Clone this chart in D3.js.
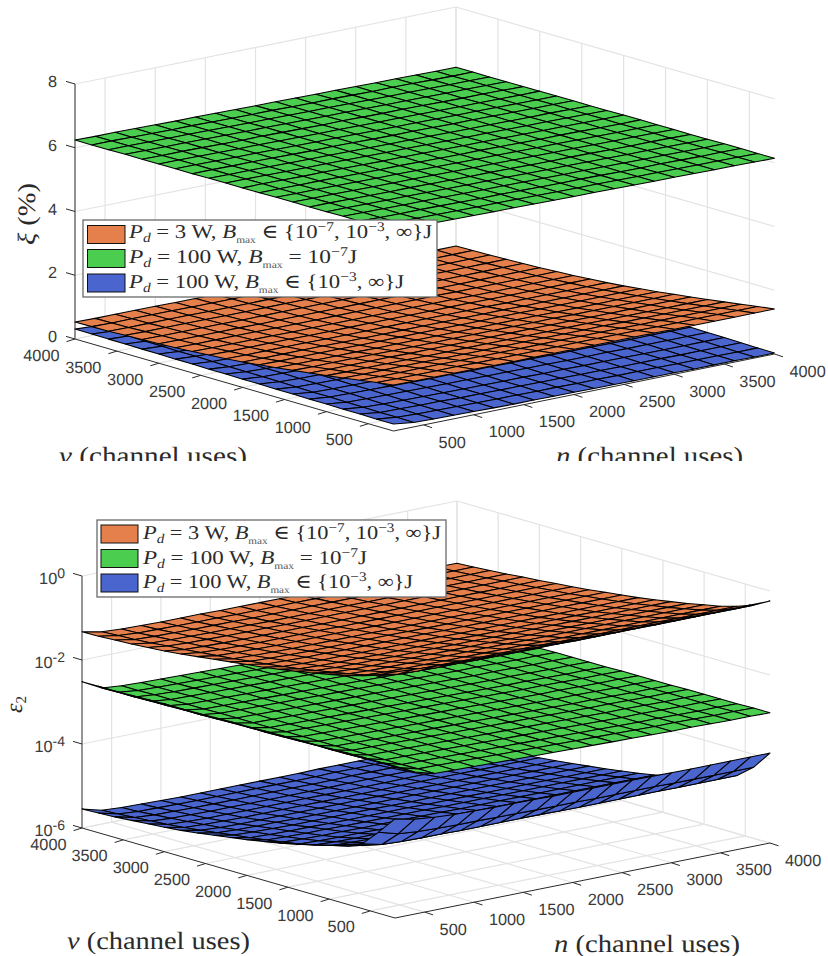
<!DOCTYPE html>
<html><head><meta charset="utf-8">
<script src="https://cdn.jsdelivr.net/npm/d3@7"></script>
<style>html,body{margin:0;padding:0;background:#fff}svg{display:block;text-rendering:geometricPrecision}</style>
</head><body><div id="c"></div>
<script>
const nGrid=[200,400,600,800,1000,1200,1400,1600,1800,2000,2200,2400,2600,2800,3000,3200,3400,3600,3800,4000];
const vGrid=[200,400,600,800,1000,1200,1400,1600,1800,2000,2200,2400,2600,2800,3000,3200,3400,3600,3800,4000];
const hTicks=[500,1000,1500,2000,2500,3000,3500,4000];
const xiTicks=[0,2,4,6,8];
const epsExponents=[-6,-4,-2,0];
const surfaceColors=["#E5804D","#4BCE4F","#4A65CE"];
const seriesLabels=[
 [["P","i"],["d","sub"],[" = 3 W, "],["B","i"],["max","max"],[" ∈ {10"],["−7","sup"],[", 10"],["−3","sup"],[", ∞}J"]],
 [["P","i"],["d","sub"],[" = 100 W, "],["B","i"],["max","max"],[" = 10"],["−7","sup"],["J"]],
 [["P","i"],["d","sub"],[" = 100 W, "],["B","i"],["max","max"],[" ∈ {10"],["−3","sup"],[", ∞}J"]]
];
// xi (%) rows: v = 200..4000, columns: n = 200..4000
const xiGreen=[
[6.28,6.27,6.27,6.26,6.25,6.24,6.24,6.23,6.22,6.21,6.21,6.20,6.19,6.18,6.18,6.17,6.16,6.16,6.15,6.14],
[6.28,6.27,6.27,6.26,6.25,6.24,6.24,6.23,6.22,6.21,6.20,6.20,6.19,6.18,6.18,6.17,6.16,6.16,6.15,6.14],
[6.28,6.27,6.26,6.26,6.25,6.24,6.23,6.23,6.22,6.21,6.20,6.20,6.19,6.18,6.17,6.17,6.16,6.15,6.15,6.14],
[6.28,6.27,6.26,6.25,6.25,6.24,6.23,6.22,6.22,6.21,6.20,6.19,6.19,6.18,6.17,6.16,6.16,6.15,6.14,6.14],
[6.27,6.27,6.26,6.25,6.25,6.24,6.23,6.22,6.22,6.21,6.20,6.19,6.19,6.18,6.17,6.16,6.16,6.15,6.14,6.13],
[6.27,6.27,6.26,6.25,6.24,6.24,6.23,6.22,6.21,6.21,6.20,6.19,6.18,6.18,6.17,6.16,6.15,6.15,6.14,6.13],
[6.27,6.26,6.26,6.25,6.24,6.23,6.23,6.22,6.21,6.20,6.20,6.19,6.18,6.17,6.17,6.16,6.15,6.15,6.14,6.13],
[6.27,6.26,6.26,6.25,6.24,6.23,6.23,6.22,6.21,6.20,6.19,6.19,6.18,6.17,6.17,6.16,6.15,6.14,6.14,6.13],
[6.26,6.26,6.25,6.25,6.24,6.23,6.22,6.22,6.21,6.20,6.19,6.19,6.18,6.17,6.16,6.16,6.15,6.14,6.13,6.13],
[6.26,6.26,6.25,6.24,6.24,6.23,6.22,6.21,6.21,6.20,6.19,6.18,6.18,6.17,6.16,6.15,6.15,6.14,6.13,6.13],
[6.26,6.26,6.25,6.24,6.23,6.23,6.22,6.21,6.20,6.20,6.19,6.18,6.17,6.17,6.16,6.15,6.15,6.14,6.13,6.12],
[6.26,6.25,6.25,6.24,6.23,6.22,6.22,6.21,6.20,6.19,6.19,6.18,6.17,6.16,6.16,6.15,6.14,6.14,6.13,6.12],
[6.25,6.25,6.24,6.24,6.23,6.22,6.21,6.21,6.20,6.19,6.18,6.18,6.17,6.16,6.16,6.15,6.14,6.13,6.13,6.12],
[6.25,6.25,6.24,6.23,6.23,6.22,6.21,6.20,6.20,6.19,6.18,6.17,6.17,6.16,6.15,6.15,6.14,6.13,6.12,6.12],
[6.25,6.25,6.24,6.23,6.22,6.22,6.21,6.20,6.19,6.19,6.18,6.17,6.17,6.16,6.15,6.14,6.14,6.13,6.12,6.12],
[6.25,6.24,6.24,6.23,6.22,6.21,6.21,6.20,6.19,6.18,6.18,6.17,6.16,6.16,6.15,6.14,6.13,6.13,6.12,6.11],
[6.25,6.24,6.23,6.23,6.22,6.21,6.20,6.20,6.19,6.18,6.17,6.17,6.16,6.15,6.15,6.14,6.13,6.13,6.12,6.11],
[6.24,6.24,6.23,6.22,6.22,6.21,6.20,6.19,6.19,6.18,6.17,6.17,6.16,6.15,6.14,6.14,6.13,6.12,6.12,6.11],
[6.24,6.24,6.23,6.22,6.21,6.21,6.20,6.19,6.18,6.18,6.17,6.16,6.16,6.15,6.14,6.14,6.13,6.12,6.11,6.11],
[6.24,6.23,6.23,6.22,6.21,6.20,6.20,6.19,6.18,6.17,6.17,6.16,6.15,6.15,6.14,6.13,6.13,6.12,6.11,6.11]];
const xiOrange=[
[1.44,1.43,1.43,1.43,1.43,1.42,1.42,1.42,1.42,1.42,1.42,1.42,1.42,1.42,1.41,1.41,1.41,1.41,1.41,1.41],
[1.37,1.36,1.36,1.36,1.36,1.35,1.35,1.35,1.35,1.35,1.35,1.35,1.35,1.35,1.34,1.34,1.34,1.34,1.34,1.34],
[1.29,1.28,1.28,1.28,1.28,1.27,1.27,1.27,1.27,1.27,1.27,1.27,1.27,1.27,1.26,1.26,1.26,1.26,1.26,1.26],
[1.21,1.20,1.20,1.20,1.20,1.19,1.19,1.19,1.19,1.19,1.19,1.19,1.19,1.19,1.18,1.18,1.18,1.18,1.18,1.18],
[1.13,1.12,1.12,1.12,1.12,1.11,1.11,1.11,1.11,1.11,1.11,1.11,1.11,1.11,1.10,1.10,1.10,1.10,1.10,1.10],
[1.06,1.05,1.05,1.05,1.05,1.04,1.04,1.04,1.04,1.04,1.04,1.04,1.04,1.04,1.03,1.03,1.03,1.03,1.03,1.03],
[.99,.98,.98,.98,.98,.97,.97,.97,.97,.97,.97,.97,.97,.97,.96,.96,.96,.96,.96,.96],
[.92,.91,.91,.91,.91,.90,.90,.90,.90,.90,.90,.90,.90,.90,.89,.89,.89,.89,.89,.89],
[.86,.85,.85,.85,.85,.84,.84,.84,.84,.84,.84,.84,.84,.84,.83,.83,.83,.83,.83,.83],
[.80,.79,.79,.79,.79,.78,.78,.78,.78,.78,.78,.78,.78,.78,.77,.77,.77,.77,.77,.77],
[.75,.74,.74,.74,.74,.73,.73,.73,.73,.73,.73,.73,.73,.73,.72,.72,.72,.72,.72,.72],
[.71,.70,.70,.70,.70,.69,.69,.69,.69,.69,.69,.69,.69,.69,.68,.68,.68,.68,.68,.68],
[.67,.66,.66,.66,.66,.65,.65,.65,.65,.65,.65,.65,.65,.65,.64,.64,.64,.64,.64,.64],
[.64,.63,.63,.63,.63,.62,.62,.62,.62,.62,.62,.62,.62,.62,.61,.61,.61,.61,.61,.61],
[.61,.60,.60,.60,.60,.59,.59,.59,.59,.59,.59,.59,.59,.59,.58,.58,.58,.58,.58,.58],
[.59,.58,.58,.58,.58,.57,.57,.57,.57,.57,.57,.57,.57,.57,.56,.56,.56,.56,.56,.56],
[.57,.56,.56,.56,.56,.55,.55,.55,.55,.55,.55,.55,.55,.55,.54,.54,.54,.54,.54,.54],
[.55,.54,.54,.54,.54,.53,.53,.53,.53,.53,.53,.53,.53,.53,.52,.52,.52,.52,.52,.52],
[.54,.53,.53,.53,.53,.52,.52,.52,.52,.52,.52,.52,.52,.52,.51,.51,.51,.51,.51,.51],
[.53,.52,.52,.52,.52,.51,.51,.51,.51,.51,.51,.51,.51,.51,.50,.50,.50,.50,.50,.50]];
const xiBlue=[
[.22,.14,.12,.11,.10,.09,.08,.08,.07,.07,.06,.06,.05,.05,.05,.04,.04,.04,.03,.03],
[.22,.15,.13,.12,.11,.10,.09,.09,.08,.08,.07,.07,.06,.06,.06,.05,.05,.05,.04,.04],
[.23,.15,.14,.12,.12,.10,.10,.09,.09,.08,.08,.07,.07,.06,.06,.06,.05,.05,.05,.05],
[.23,.16,.14,.13,.12,.11,.10,.10,.09,.09,.08,.08,.07,.07,.07,.06,.06,.06,.06,.06],
[.24,.17,.15,.14,.13,.12,.11,.11,.10,.10,.09,.09,.08,.08,.08,.07,.07,.07,.07,.07],
[.24,.18,.16,.15,.14,.13,.12,.12,.11,.11,.10,.10,.09,.09,.09,.08,.08,.08,.08,.08],
[.25,.18,.16,.15,.14,.13,.12,.12,.11,.11,.10,.10,.10,.09,.09,.09,.09,.09,.09,.09],
[.25,.19,.17,.16,.15,.14,.13,.13,.12,.12,.11,.11,.11,.10,.10,.10,.10,.10,.10,.10],
[.26,.20,.18,.17,.16,.15,.14,.14,.13,.13,.12,.12,.12,.11,.11,.11,.11,.11,.11,.11],
[.26,.21,.19,.18,.17,.16,.15,.15,.14,.14,.13,.13,.13,.12,.12,.12,.12,.12,.12,.12],
[.27,.21,.19,.18,.17,.16,.16,.15,.15,.15,.14,.14,.14,.13,.13,.13,.13,.13,.13,.13],
[.27,.22,.20,.19,.18,.18,.17,.17,.16,.16,.15,.15,.15,.14,.14,.14,.14,.14,.14,.14],
[.28,.23,.21,.20,.19,.19,.18,.18,.17,.17,.16,.16,.16,.15,.15,.15,.15,.15,.15,.15],
[.28,.24,.22,.21,.20,.20,.19,.19,.18,.18,.17,.17,.17,.16,.16,.16,.16,.16,.16,.16],
[.29,.24,.23,.22,.21,.21,.20,.20,.19,.19,.18,.18,.18,.17,.17,.17,.17,.17,.17,.17],
[.29,.25,.24,.23,.22,.22,.21,.21,.20,.20,.19,.19,.19,.18,.18,.18,.18,.18,.17,.17],
[.30,.26,.25,.24,.23,.23,.22,.22,.21,.21,.20,.20,.20,.19,.19,.19,.19,.18,.18,.18],
[.30,.27,.26,.25,.24,.24,.23,.23,.22,.22,.21,.21,.21,.20,.20,.20,.19,.19,.19,.19],
[.31,.27,.26,.25,.24,.24,.23,.23,.23,.22,.22,.21,.21,.21,.20,.20,.20,.19,.19,.19],
[.31,.28,.27,.26,.25,.25,.24,.24,.23,.23,.22,.22,.22,.21,.21,.21,.20,.20,.20,.20]];
// log10(epsilon_2), same row/column order
const epsOrangeLog=[
[-.14,-.17,-.20,-.21,-.22,-.22,-.23,-.23,-.23,-.24,-.24,-.24,-.24,-.24,-.24,-.24,-.24,-.24,-.24,-.24],
[-.32,-.40,-.42,-.43,-.43,-.44,-.44,-.44,-.44,-.44,-.45,-.45,-.45,-.45,-.45,-.45,-.45,-.45,-.45,-.45],
[-.46,-.54,-.56,-.57,-.57,-.58,-.58,-.58,-.58,-.58,-.59,-.59,-.59,-.59,-.59,-.59,-.59,-.59,-.59,-.59],
[-.57,-.65,-.67,-.68,-.68,-.69,-.69,-.69,-.69,-.69,-.70,-.70,-.70,-.70,-.70,-.70,-.70,-.70,-.70,-.70],
[-.65,-.73,-.75,-.76,-.76,-.77,-.77,-.77,-.77,-.77,-.78,-.78,-.78,-.78,-.78,-.78,-.78,-.78,-.78,-.78],
[-.73,-.81,-.83,-.84,-.84,-.85,-.85,-.85,-.85,-.85,-.86,-.86,-.86,-.86,-.86,-.86,-.86,-.86,-.86,-.86],
[-.80,-.88,-.90,-.91,-.91,-.92,-.92,-.92,-.92,-.92,-.93,-.93,-.93,-.93,-.93,-.93,-.93,-.93,-.93,-.93],
[-.87,-.95,-.97,-.98,-.98,-.99,-.99,-.99,-.99,-.99,-1.00,-1.00,-1.00,-1.00,-1.00,-1.00,-1.00,-1.00,-1.00,-1.00],
[-.93,-1.01,-1.03,-1.04,-1.04,-1.05,-1.05,-1.05,-1.05,-1.05,-1.06,-1.06,-1.06,-1.06,-1.06,-1.06,-1.06,-1.06,-1.06,-1.06],
[-.98,-1.06,-1.08,-1.09,-1.09,-1.10,-1.10,-1.10,-1.10,-1.10,-1.11,-1.11,-1.11,-1.11,-1.11,-1.11,-1.11,-1.11,-1.11,-1.11],
[-1.03,-1.11,-1.13,-1.14,-1.15,-1.15,-1.15,-1.15,-1.15,-1.15,-1.16,-1.16,-1.16,-1.16,-1.16,-1.16,-1.16,-1.16,-1.16,-1.16],
[-1.08,-1.16,-1.18,-1.19,-1.20,-1.20,-1.20,-1.20,-1.20,-1.21,-1.21,-1.21,-1.21,-1.21,-1.21,-1.21,-1.21,-1.21,-1.21,-1.21],
[-1.13,-1.20,-1.22,-1.23,-1.24,-1.24,-1.24,-1.24,-1.24,-1.25,-1.25,-1.25,-1.25,-1.25,-1.25,-1.25,-1.25,-1.25,-1.25,-1.25],
[-1.18,-1.24,-1.26,-1.27,-1.28,-1.28,-1.28,-1.28,-1.29,-1.29,-1.29,-1.29,-1.29,-1.29,-1.29,-1.29,-1.29,-1.29,-1.29,-1.29],
[-1.22,-1.28,-1.30,-1.31,-1.32,-1.32,-1.32,-1.32,-1.33,-1.33,-1.33,-1.33,-1.33,-1.33,-1.33,-1.33,-1.33,-1.33,-1.33,-1.33],
[-1.25,-1.31,-1.33,-1.34,-1.35,-1.35,-1.35,-1.36,-1.36,-1.36,-1.36,-1.36,-1.36,-1.36,-1.36,-1.36,-1.36,-1.36,-1.36,-1.36],
[-1.28,-1.35,-1.37,-1.38,-1.39,-1.39,-1.39,-1.40,-1.40,-1.40,-1.40,-1.40,-1.40,-1.40,-1.40,-1.40,-1.40,-1.40,-1.40,-1.40],
[-1.30,-1.38,-1.40,-1.41,-1.42,-1.42,-1.42,-1.43,-1.43,-1.43,-1.43,-1.43,-1.43,-1.43,-1.43,-1.43,-1.43,-1.43,-1.43,-1.43],
[-1.32,-1.40,-1.43,-1.44,-1.45,-1.45,-1.45,-1.46,-1.46,-1.46,-1.46,-1.46,-1.46,-1.46,-1.46,-1.46,-1.46,-1.46,-1.46,-1.46],
[-1.33,-1.42,-1.45,-1.46,-1.47,-1.47,-1.47,-1.48,-1.48,-1.48,-1.48,-1.48,-1.48,-1.48,-1.48,-1.48,-1.48,-1.48,-1.48,-1.48]];
const epsGreenLog=[
[-2.38,-2.62,-2.75,-2.76,-2.77,-2.78,-2.79,-2.80,-2.81,-2.82,-2.83,-2.84,-2.85,-2.86,-2.87,-2.87,-2.88,-2.89,-2.89,-2.90],
[-2.39,-2.63,-2.75,-2.76,-2.77,-2.78,-2.79,-2.80,-2.81,-2.82,-2.83,-2.84,-2.85,-2.86,-2.87,-2.87,-2.88,-2.89,-2.89,-2.90],
[-2.39,-2.63,-2.76,-2.77,-2.78,-2.79,-2.80,-2.81,-2.82,-2.83,-2.84,-2.85,-2.86,-2.87,-2.88,-2.88,-2.89,-2.90,-2.90,-2.91],
[-2.40,-2.64,-2.76,-2.77,-2.78,-2.79,-2.80,-2.81,-2.82,-2.83,-2.84,-2.85,-2.86,-2.87,-2.88,-2.88,-2.89,-2.90,-2.90,-2.91],
[-2.41,-2.65,-2.76,-2.77,-2.78,-2.79,-2.80,-2.81,-2.82,-2.83,-2.84,-2.85,-2.86,-2.87,-2.88,-2.88,-2.89,-2.90,-2.90,-2.91],
[-2.42,-2.66,-2.76,-2.77,-2.78,-2.79,-2.80,-2.81,-2.82,-2.83,-2.84,-2.85,-2.86,-2.87,-2.88,-2.88,-2.89,-2.90,-2.90,-2.91],
[-2.42,-2.66,-2.77,-2.78,-2.79,-2.80,-2.81,-2.82,-2.83,-2.84,-2.85,-2.86,-2.87,-2.88,-2.89,-2.89,-2.90,-2.91,-2.91,-2.92],
[-2.43,-2.67,-2.77,-2.78,-2.79,-2.80,-2.81,-2.82,-2.83,-2.84,-2.85,-2.86,-2.87,-2.88,-2.89,-2.89,-2.90,-2.91,-2.91,-2.92],
[-2.44,-2.68,-2.77,-2.78,-2.79,-2.80,-2.81,-2.82,-2.83,-2.84,-2.85,-2.86,-2.87,-2.88,-2.89,-2.89,-2.90,-2.91,-2.91,-2.92],
[-2.45,-2.69,-2.77,-2.78,-2.79,-2.80,-2.81,-2.82,-2.83,-2.84,-2.85,-2.86,-2.87,-2.88,-2.89,-2.89,-2.90,-2.91,-2.91,-2.92],
[-2.45,-2.69,-2.78,-2.79,-2.80,-2.81,-2.82,-2.83,-2.84,-2.85,-2.86,-2.87,-2.88,-2.89,-2.90,-2.90,-2.91,-2.92,-2.92,-2.93],
[-2.46,-2.70,-2.78,-2.79,-2.80,-2.81,-2.82,-2.83,-2.84,-2.85,-2.86,-2.87,-2.88,-2.89,-2.90,-2.90,-2.91,-2.92,-2.92,-2.93],
[-2.47,-2.71,-2.78,-2.79,-2.80,-2.81,-2.82,-2.83,-2.84,-2.85,-2.86,-2.87,-2.88,-2.89,-2.90,-2.90,-2.91,-2.92,-2.92,-2.93],
[-2.48,-2.72,-2.78,-2.79,-2.80,-2.81,-2.82,-2.83,-2.84,-2.85,-2.86,-2.87,-2.88,-2.89,-2.90,-2.90,-2.91,-2.92,-2.92,-2.93],
[-2.48,-2.72,-2.79,-2.80,-2.81,-2.82,-2.83,-2.84,-2.85,-2.86,-2.87,-2.88,-2.89,-2.90,-2.91,-2.91,-2.92,-2.93,-2.93,-2.94],
[-2.49,-2.73,-2.79,-2.80,-2.81,-2.82,-2.83,-2.84,-2.85,-2.86,-2.87,-2.88,-2.89,-2.90,-2.91,-2.91,-2.92,-2.93,-2.93,-2.94],
[-2.50,-2.74,-2.79,-2.80,-2.81,-2.82,-2.83,-2.84,-2.85,-2.86,-2.87,-2.88,-2.89,-2.90,-2.91,-2.91,-2.92,-2.93,-2.93,-2.94],
[-2.51,-2.75,-2.79,-2.81,-2.82,-2.83,-2.84,-2.85,-2.86,-2.87,-2.88,-2.89,-2.89,-2.90,-2.91,-2.91,-2.92,-2.93,-2.93,-2.94],
[-2.51,-2.75,-2.80,-2.82,-2.83,-2.84,-2.85,-2.86,-2.87,-2.88,-2.89,-2.90,-2.90,-2.91,-2.92,-2.92,-2.93,-2.93,-2.94,-2.95],
[-2.52,-2.76,-2.80,-2.82,-2.83,-2.84,-2.85,-2.86,-2.87,-2.88,-2.89,-2.90,-2.90,-2.91,-2.92,-2.92,-2.93,-2.93,-2.94,-2.95]];
const epsBlueLog=[
[-3.64,-3.74,-3.79,-3.82,-3.83,-3.84,-3.84,-3.84,-3.85,-3.85,-3.85,-3.85,-3.85,-3.85,-3.86,-3.86,-3.86,-3.86,-3.86,-3.86],
[-4.07,-4.20,-4.24,-4.26,-4.27,-4.27,-4.28,-4.28,-4.29,-4.29,-4.29,-4.30,-4.30,-4.30,-4.30,-4.31,-4.31,-4.31,-4.31,-4.31],
[-4.46,-4.57,-4.59,-4.60,-4.60,-4.61,-4.61,-4.61,-4.61,-4.61,-4.62,-4.62,-4.62,-4.62,-4.62,-4.62,-4.62,-4.62,-4.62,-4.62],
[-4.59,-4.70,-4.72,-4.73,-4.73,-4.74,-4.74,-4.74,-4.74,-4.74,-4.75,-4.75,-4.75,-4.75,-4.75,-4.75,-4.75,-4.75,-4.75,-4.75],
[-4.72,-4.83,-4.85,-4.86,-4.86,-4.87,-4.87,-4.87,-4.87,-4.87,-4.88,-4.88,-4.88,-4.88,-4.88,-4.88,-4.88,-4.88,-4.88,-4.88],
[-4.82,-4.93,-4.95,-4.96,-4.96,-4.97,-4.97,-4.97,-4.97,-4.97,-4.98,-4.98,-4.98,-4.98,-4.98,-4.98,-4.98,-4.98,-4.98,-4.98],
[-4.92,-5.03,-5.05,-5.06,-5.06,-5.07,-5.07,-5.07,-5.07,-5.07,-5.08,-5.08,-5.08,-5.08,-5.08,-5.08,-5.08,-5.08,-5.08,-5.08],
[-5.01,-5.12,-5.14,-5.15,-5.15,-5.16,-5.16,-5.16,-5.16,-5.16,-5.17,-5.17,-5.17,-5.17,-5.17,-5.17,-5.17,-5.17,-5.17,-5.17],
[-5.08,-5.19,-5.21,-5.22,-5.22,-5.23,-5.23,-5.23,-5.23,-5.23,-5.24,-5.24,-5.24,-5.24,-5.24,-5.24,-5.24,-5.24,-5.24,-5.24],
[-5.15,-5.25,-5.27,-5.28,-5.28,-5.29,-5.29,-5.29,-5.29,-5.29,-5.30,-5.30,-5.30,-5.30,-5.30,-5.30,-5.30,-5.30,-5.30,-5.30],
[-5.21,-5.31,-5.33,-5.34,-5.34,-5.35,-5.35,-5.35,-5.35,-5.35,-5.36,-5.36,-5.36,-5.36,-5.36,-5.36,-5.36,-5.36,-5.36,-5.36],
[-5.27,-5.36,-5.38,-5.39,-5.40,-5.40,-5.40,-5.40,-5.40,-5.41,-5.41,-5.41,-5.41,-5.41,-5.41,-5.41,-5.41,-5.41,-5.41,-5.41],
[-5.33,-5.42,-5.44,-5.45,-5.45,-5.46,-5.46,-5.46,-5.46,-5.46,-5.46,-5.46,-5.46,-5.46,-5.46,-5.46,-5.46,-5.46,-5.46,-5.46],
[-5.38,-5.47,-5.50,-5.51,-5.51,-5.51,-5.51,-5.51,-5.51,-5.51,-5.51,-5.51,-5.51,-5.51,-5.51,-5.51,-5.51,-5.51,-5.51,-5.51],
[-5.42,-5.52,-5.54,-5.55,-5.56,-5.56,-5.56,-5.56,-5.56,-5.56,-5.56,-5.56,-5.55,-5.55,-5.55,-5.55,-5.55,-5.55,-5.55,-5.55],
[-5.45,-5.56,-5.58,-5.60,-5.60,-5.60,-5.60,-5.60,-5.60,-5.60,-5.60,-5.60,-5.60,-5.59,-5.59,-5.59,-5.59,-5.59,-5.59,-5.59],
[-5.48,-5.59,-5.62,-5.63,-5.64,-5.64,-5.64,-5.64,-5.64,-5.64,-5.64,-5.63,-5.63,-5.63,-5.63,-5.62,-5.62,-5.62,-5.62,-5.62],
[-5.51,-5.62,-5.65,-5.66,-5.67,-5.67,-5.67,-5.67,-5.67,-5.67,-5.67,-5.67,-5.66,-5.66,-5.66,-5.66,-5.65,-5.65,-5.65,-5.65],
[-5.53,-5.65,-5.68,-5.69,-5.70,-5.70,-5.70,-5.70,-5.70,-5.70,-5.70,-5.70,-5.69,-5.69,-5.69,-5.69,-5.69,-5.68,-5.68,-5.68],
[-5.55,-5.67,-5.70,-5.71,-5.72,-5.73,-5.73,-5.73,-5.73,-5.73,-5.73,-5.73,-5.72,-5.72,-5.72,-5.72,-5.71,-5.71,-5.71,-5.70]];

const svg=d3.select("#c").append("svg").attr("width",828).attr("height",956);
const SANS="'Liberation Sans',Arial,sans-serif", SERIF="'Liberation Serif','DejaVu Serif',serif";
const GRID="#e3e3e3", AX="#2b2b2b", TXT="#3a3a3a", MATH="#2a2a2a";

function panel(g,cfg){
  const dom=[200,4000];
  const nx=d3.scaleLinear().domain(dom).range([0,cfg.nVec[0]]), ny=d3.scaleLinear().domain(dom).range([0,cfg.nVec[1]]);
  const vx=d3.scaleLinear().domain(dom).range([0,cfg.vVec[0]]), vy=d3.scaleLinear().domain(dom).range([0,cfg.vVec[1]]);
  const zs=cfg.zScale;
  const zBase=zs(cfg.zDomain[0]);
  const P=(n,v,z)=>[cfg.o[0]+nx(n)+vx(v), cfg.o[1]+ny(n)+vy(v)+(zs(z)-zBase)];
  const line=d3.line();
  const seg=(a,b,st,w)=>g.append("path").attr("d",line([a,b])).attr("fill","none").attr("stroke",st).attr("stroke-width",w);
  const [z0,z1]=cfg.zDomain;
  hTicks.forEach(t=>{
    seg(P(t,4000,z0),P(t,4000,z1),GRID,1.2);
    seg(P(4000,t,z0),P(4000,t,z1),GRID,1.2);
    seg(P(t,200,z0),P(t,4000,z0),GRID,1.2);
    seg(P(200,t,z0),P(4000,t,z0),GRID,1.2);
  });
  cfg.zTicks.forEach(z=>{
    seg(P(200,4000,z),P(4000,4000,z),GRID,1.2);
    seg(P(4000,200,z),P(4000,4000,z),GRID,1.2);
  });
  seg(P(200,4000,z0),P(200,200,z0),AX,1);
  seg(P(200,200,z0),P(4000,200,z0),AX,1);
  seg(P(200,4000,z0),P(200,4000,z1),cfg.zAxisColor,cfg.zAxisW);
  const tv=[-8.5,2.6], tn=[8.5,2.8], tz=[-9,-2.6];
  hTicks.forEach(t=>{
    const a=P(200,t,z0); seg(a,[a[0]+tv[0],a[1]+tv[1]],AX,1);
    g.append("text").attr("x",a[0]-15.5).attr("y",a[1]+16+5.6).attr("text-anchor","end").attr("font-family",SANS).attr("font-size",16.3).attr("fill",TXT).text(t);
    const b=P(t,200,z0); seg(b,[b[0]+tn[0],b[1]+tn[1]],AX,1);
    g.append("text").attr("x",b[0]+15).attr("y",b[1]+17+5.6).attr("font-family",SANS).attr("font-size",16.3).attr("fill",TXT).text(t);
  });
  cfg.zTicks.forEach(z=>{
    const a=P(200,4000,z); seg(a,[a[0]+tz[0],a[1]+tz[1]],AX,1);
    cfg.zLabel(g,a,z);
  });
  cfg.surfaces.forEach(s=>{
    const sg=g.append("g");
    for(let i=vGrid.length-2;i>=0;i--) for(let j=nGrid.length-2;j>=0;j--){
      const q=[[j,i],[j+1,i],[j+1,i+1],[j,i+1]].map(([c,r])=>P(nGrid[c],vGrid[r],cfg.zVal(s.m[r][c])));
      sg.append("path").attr("d",line(q)+"Z").attr("fill",s.c).attr("stroke","#000").attr("stroke-width",1.05).attr("stroke-linejoin","round");
    }
  });
}
function mathText(g,segs,x,y,len,fs){
  const t=g.append("text").attr("x",x).attr("y",y).attr("font-family",SERIF).attr("font-size",fs).attr("fill",MATH).style("white-space","pre");
  let off=0;
  segs.forEach(([s,k])=>{
    const target=k==="sub"?4:k==="max"?5:k==="sup"?-7:0;
    const ts=t.append("tspan").attr("dy",target-off).text(s); off=target;
    if(k==="i"||k==="sub") ts.attr("font-style","italic");
    if(k==="sub"||k==="sup") ts.attr("font-size",fs*.68);
    if(k==="max") ts.attr("font-size",fs*.5).attr("fill","#555");
  });
  t.attr("textLength",len).attr("lengthAdjust","spacingAndGlyphs");
}
function legend(g,box,sw,tx,rows){
  g.append("rect").attr("x",box[0]).attr("y",box[1]).attr("width",box[2]).attr("height",box[3]).attr("fill","#fff").attr("stroke","#6a6a6a").attr("stroke-width",1.3);
  rows.forEach((r,i)=>{
    g.append("rect").attr("x",sw[0]).attr("y",r.y).attr("width",sw[1]).attr("height",r.h).attr("fill",surfaceColors[i]).attr("stroke","#111").attr("stroke-width",1);
    mathText(g,seriesLabels[i],tx,r.base,r.len,19.5);
  });
}
function axisTitle(g,letter,rest,x,y,len){
  const t=g.append("text").attr("x",x).attr("y",y).attr("font-family",SERIF).attr("font-size",25).attr("fill",MATH).attr("textLength",len).attr("lengthAdjust","spacingAndGlyphs");
  t.append("tspan").attr("font-style","italic").text(letter);
  t.append("tspan").text(rest);
}

svg.append("clipPath").attr("id","topClip").append("rect").attr("width",828).attr("height",461);
const top_=svg.append("g").attr("clip-path","url(#topClip)");
const zTop=d3.scaleLinear().domain([0,8]).range([0,-255]);
panel(top_,{o:[393.5,431],nVec:[381,-77],vVec:[-318.5,-92],zDomain:[0,8],zScale:zTop,zVal:d=>d,zTicks:xiTicks,zAxisColor:"#7d7d7d",zAxisW:1.7,
  surfaces:[{m:xiBlue,c:surfaceColors[2]},{m:xiOrange,c:surfaceColors[0]},{m:xiGreen,c:surfaceColors[1]}],
  zLabel:(g,a,z)=>g.append("text").attr("x",a[0]-18).attr("y",a[1]+3).attr("text-anchor","end").attr("font-family",SANS).attr("font-size",16.3).attr("fill",TXT).text(z)});
axisTitle(top_,"v"," (channel uses)",59,464,188);
axisTitle(top_,"n"," (channel uses)",556,464,187);
const xiT=top_.append("text").attr("transform","translate(35,245) rotate(-90)").attr("font-family",SERIF).attr("font-size",25).attr("fill",MATH).attr("textLength",62).attr("lengthAdjust","spacingAndGlyphs");
xiT.append("tspan").attr("font-style","italic").text("ξ"); xiT.append("tspan").text(" (%)");
legend(top_,[83,220,354,77],[87.5,37.5],129,[{y:225.5,h:18,base:238,len:303},{y:249.5,h:18,base:263,len:228},{y:274,h:18,base:288,len:275}]);

const zBot=d3.scaleLog().domain([1e-6,1]).range([0,-252]);
panel(svg.append("g"),{o:[395,918],nVec:[375,-75],vVec:[-313,-90],zDomain:[1e-6,1],zScale:zBot,zVal:d=>Math.pow(10,d),zTicks:epsExponents.map(e=>Math.pow(10,e)),zAxisColor:"#2b2b2b",zAxisW:1,
  surfaces:[{m:epsBlueLog,c:surfaceColors[2]},{m:epsGreenLog,c:surfaceColors[1]},{m:epsOrangeLog,c:surfaceColors[0]}],
  zLabel:(g,a,z)=>{
    const e=Math.round(Math.log10(z)); const s=(e<0?"-":"")+Math.abs(e);
    const t=g.append("text").attr("x",a[0]-17).attr("y",a[1]+7.5).attr("text-anchor","end").attr("font-family",SANS).attr("font-size",16.3).attr("fill",TXT);
    t.append("tspan").text("10"); t.append("tspan").attr("dy",-6).attr("font-size",14).text(s);
  }});
axisTitle(svg,"v"," (channel uses)",67,949,183);
axisTitle(svg,"n"," (channel uses)",554,952,186);
const eT=svg.append("text").attr("transform","translate(22,713) rotate(-90)").attr("font-family",SERIF).attr("font-size",24).attr("fill",MATH);
eT.append("tspan").attr("font-style","italic").text("ε"); eT.append("tspan").attr("dy",4).attr("font-size",15).text("2");
legend(svg,[97,520,349,77],[101,37],143,[{y:525,h:18,base:539,len:298},{y:549.5,h:18,base:564,len:224},{y:574,h:18,base:588,len:270}]);
</script></body></html>
